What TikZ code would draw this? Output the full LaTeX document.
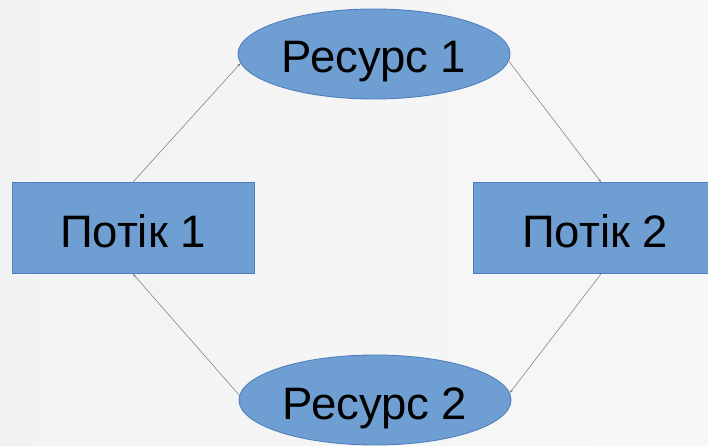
\documentclass[tikz,border=0pt]{standalone}
\usepackage{fontspec}
\setmainfont{Liberation Sans}
\usetikzlibrary{arrows.meta,shapes.geometric}
\definecolor{boxfill}{HTML}{6F9FD2}
\definecolor{boxline}{HTML}{4F7EC0}
\definecolor{linkgray}{HTML}{7F7F7F}
\tikzset{
  label text/.style={font=\fontsize{45.5}{50}\selectfont, text height=38pt, text depth=0pt},
  thread/.style={draw=boxline, line width=0.9pt, fill=boxfill, minimum width=242pt,
    minimum height=91pt, inner sep=0pt, label text},
  resource/.style={ellipse, draw=boxline, line width=0.9pt, fill=boxfill, minimum width=272pt,
    minimum height=90pt, inner sep=0pt, label text},
  link/.style={draw=linkgray, line width=0.55pt, -{Stealth[length=3.5pt,width=2.6pt]}}
}
\begin{document}
\begin{tikzpicture}[x=1pt,y=-1pt]
  \useasboundingbox (0,0) rectangle (708,446);
  \clip (0,0) rectangle (708,446);
  % light backdrop
  \shade[left color=black!5, right color=black!3] (0,0) rectangle (708,446);

  \node[thread] (p1) at (133,228) {Потік 1};
  \node[thread, minimum width=244pt] (p2) at (595,228) {Потік 2};
  \node[resource] (r1) at (374,54) {Ресурс 1};
  \node[resource] (r2) at (375,400) {Ресурс 2};

  \draw[link] (p1.north) -- (r1.184);
  \draw[link] (r1.357) -- ([xshift=6pt]p2.north);
  \draw[link] (r2.178) -- (p1.south);
  \draw[link] ([xshift=6pt]p2.south) -- (r2.3);
\end{tikzpicture}
\end{document}
